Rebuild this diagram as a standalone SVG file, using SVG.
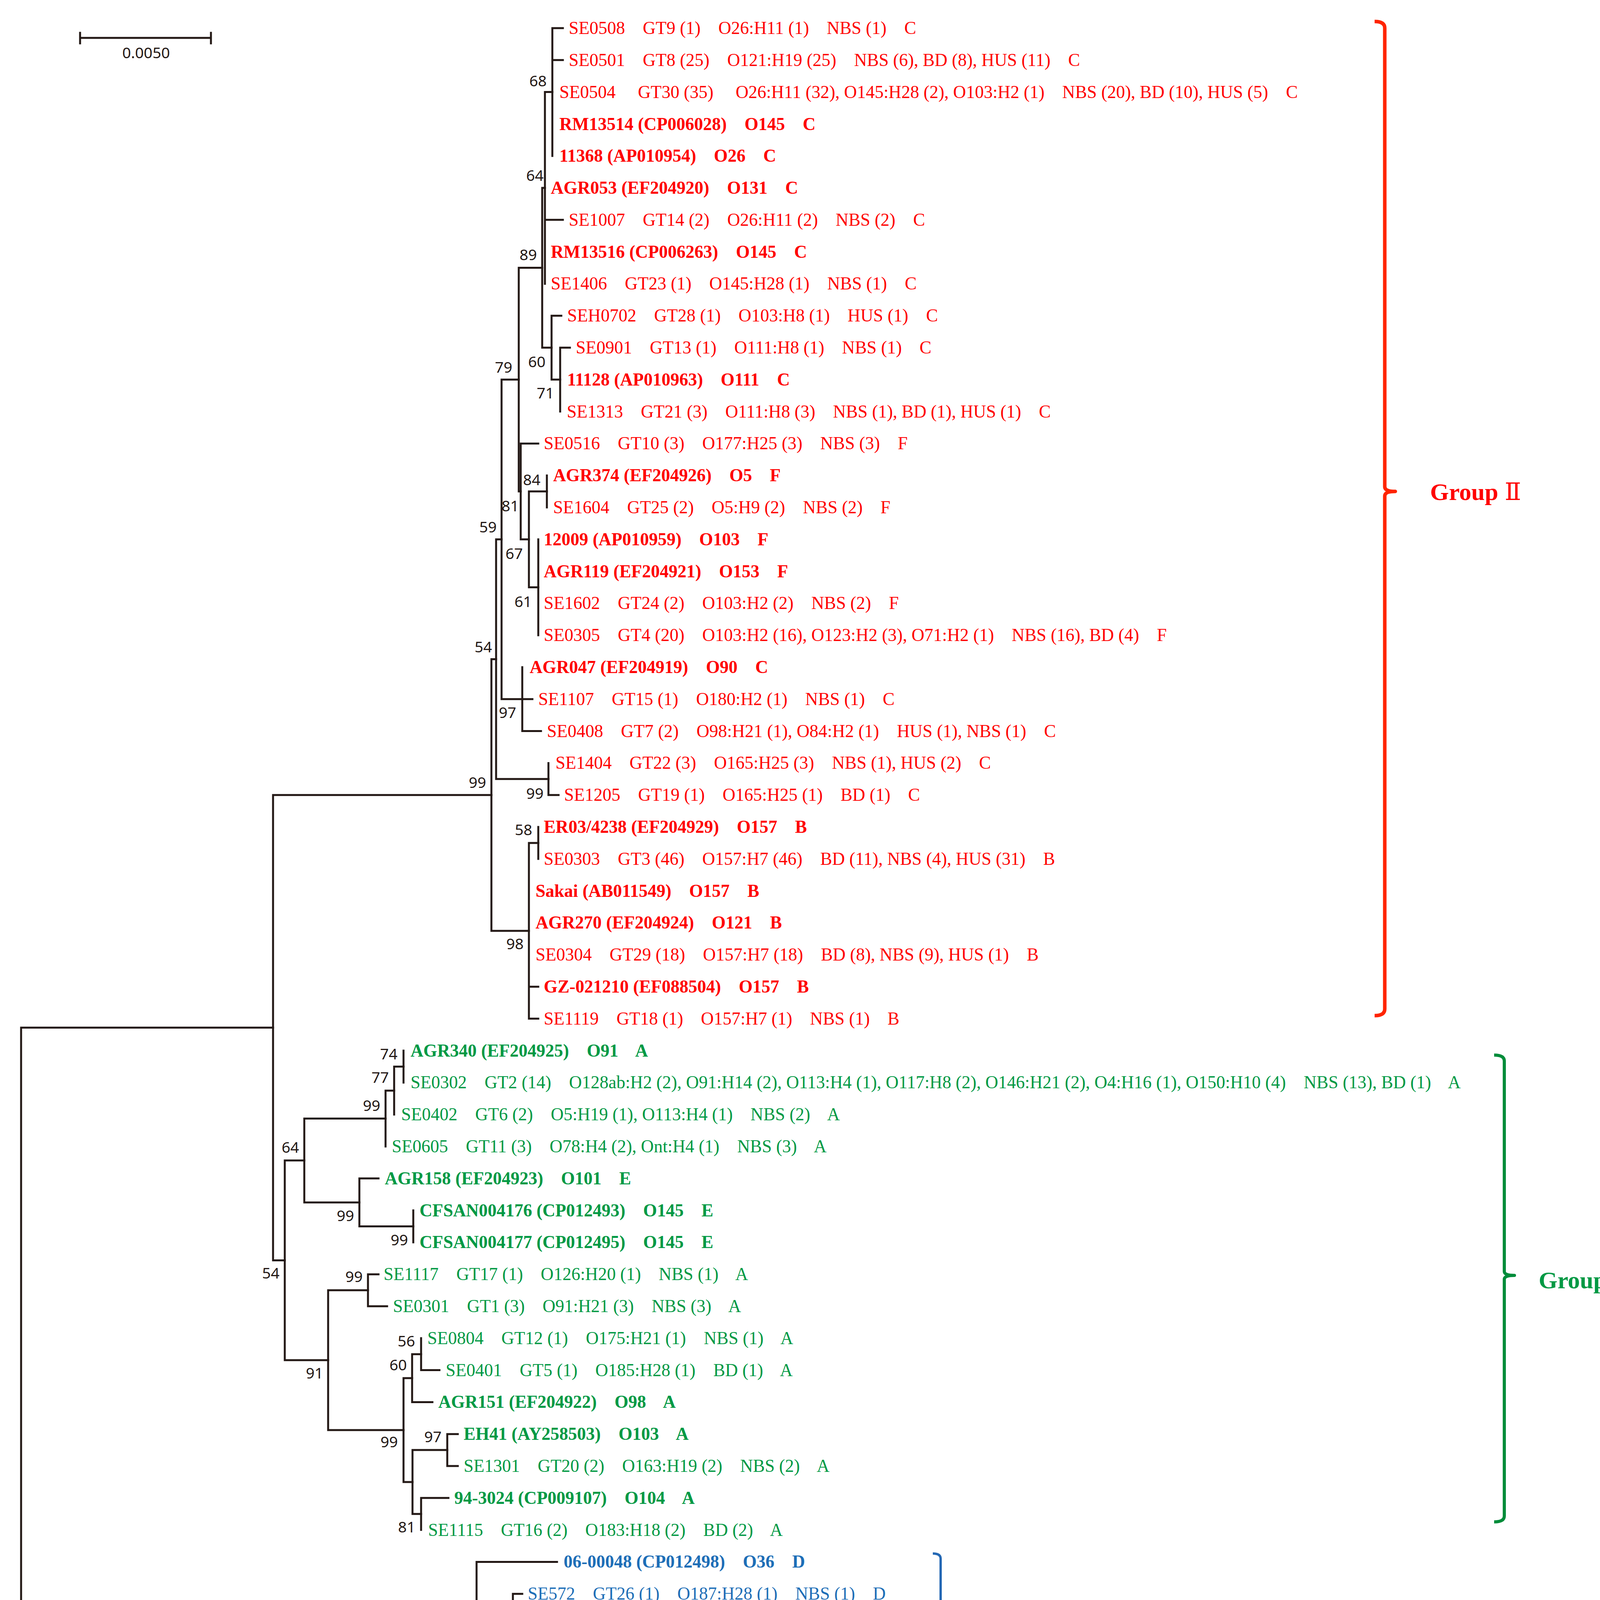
<svg xmlns="http://www.w3.org/2000/svg" width="4182" height="4631" viewBox="0 0 4182 4631">
<style>
.tree{fill:none;stroke:#231815;stroke-width:5;stroke-linecap:square}
.bs{font-family:"Noto Sans","DejaVu Sans",sans-serif;font-size:39px;fill:#231815}
.t{font-family:"Liberation Serif","Times New Roman",serif;font-size:45.5px;white-space:pre}
.r{fill:#FF0000}
.g{fill:#009944}
.b{fill:#1D6EB7}
.bold{font-weight:bold}
.grp{font-family:"Liberation Serif","Times New Roman",serif;font-size:62px;font-weight:bold}
.num{font-family:"Liberation Serif","DejaVu Serif","Noto Sans CJK SC",serif;font-weight:normal}
.br{fill:none;stroke-linecap:butt;stroke-linejoin:round}
</style>
<rect width="4182" height="4631" fill="#FFFFFF"/>

<g id="scale-bar">
<path class="tree" d="M205,97 H540 M205,84 V111 M540,84 V111" stroke-linecap="butt"/>
<text class="bs" x="374" y="149" text-anchor="middle">0.0050</text>
</g>

<g id="connectors" class="tree">
<path d="M54,2630.8 V4100.7 M54,2630.8 H699 M54,4100.7 H1220"/>
<path d="M699,2035.2 V3226.4 M699,2035.2 H1258 M699,3226.4 H729"/>
<path d="M1258,1687.5 V2382.9 M1258,1687.5 H1270 M1258,2382.9 H1354"/>
<path d="M1270,1380.8 V1994.3 M1270,1380.8 H1284 M1270,1994.3 H1404"/>
<path d="M1284,971.8 V1789.8 M1284,971.8 H1328 M1284,1789.8 H1337"/>
<path d="M1328,685.5 V1258.1 M1328,685.5 H1388 M1328,1258.1 H1333"/>
<path d="M1388,481 V890 M1388,481 H1395 M1388,890 H1412"/>
<path d="M1395,235.6 V726.4 M1395,235.6 H1414 M1395,562.8 H1441"/>
<path d="M1414,72 V399.2 M1414,72 H1441 M1414,153.8 H1441"/>
<path d="M1412,808.2 V971.8 M1412,808.2 H1437 M1412,971.8 H1434"/>
<path d="M1434,890 V1053.6 M1434,890 H1459"/>
<path d="M1333,1135.4 V1380.8 M1333,1135.4 H1378 M1333,1380.8 H1354"/>
<path d="M1354,1258.1 V1503.5 M1354,1258.1 H1400 M1354,1503.5 H1378"/>
<path d="M1400,1217.2 V1299"/>
<path d="M1378,1380.8 V1626.2"/>
<path d="M1337,1708 V1871.6 M1337,1789.8 H1363 M1337,1871.6 H1385"/>
<path d="M1404,1953.4 V2035.2 M1404,2035.2 H1430"/>
<path d="M1354,2157.9 V2607.8 M1354,2157.9 H1378 M1354,2526 H1378 M1354,2607.8 H1378"/>
<path d="M1378,2117 V2198.8"/>
<path d="M729,2970.8 V3482 M729,2970.8 H779 M729,3482 H840"/>
<path d="M779,2863.4 V3078.2 M779,2863.4 H987 M779,3078.2 H920"/>
<path d="M987,2791.9 V2935 M987,2791.9 H1009"/>
<path d="M1009,2730.5 V2853.2 M1009,2730.5 H1033"/>
<path d="M1033,2689.6 V2771.4"/>
<path d="M920,3016.8 V3139.5 M920,3016.8 H969 M920,3139.5 H1058"/>
<path d="M1058,3098.6 V3180.4"/>
<path d="M840,3303.1 V3661 M840,3303.1 H942 M840,3661 H1033"/>
<path d="M942,3262.2 V3344 M942,3262.2 H969 M942,3344 H991"/>
<path d="M1033,3528.1 V3793.9 M1033,3528.1 H1055 M1033,3793.9 H1056"/>
<path d="M1055,3466.7 V3589.4 M1055,3466.7 H1078 M1055,3589.4 H1107"/>
<path d="M1078,3425.8 V3507.6 M1078,3507.6 H1125"/>
<path d="M1056,3712.1 V3875.7 M1056,3712.1 H1145 M1056,3875.7 H1078"/>
<path d="M1145,3671.2 V3753 M1145,3671.2 H1172 M1145,3753 H1172"/>
<path d="M1078,3834.8 V3916.6 M1078,3834.8 H1148"/>
<path d="M1220,3998.4 V4202.9 M1220,3998.4 H1426 M1220,4202.9 H1313"/>
<path d="M1313,4080.2 V4325.6 M1313,4080.2 H1337 M1313,4325.6 H1361"/>
<path d="M1361,4202.9 V4448.3 M1361,4202.9 H1386 M1361,4448.3 H1364"/>
<path d="M1386,4162 V4243.8"/>
<path d="M1364,4366.5 V4530.1 M1364,4366.5 H1410 M1364,4530.1 H1456"/>
<path d="M1410,4325.6 V4407.4"/>
<path d="M1456,4489.2 V4571"/>
</g>

<g id="bootstrap" class="bs">
<text x="1355" y="221">68</text>
<text x="1347" y="463">64</text>
<text x="1330" y="666">89</text>
<text x="1267" y="954">79</text>
<text x="1352" y="940">60</text>
<text x="1374" y="1020">71</text>
<text x="1339" y="1242">84</text>
<text x="1284" y="1309">81</text>
<text x="1227" y="1363">59</text>
<text x="1294" y="1431">67</text>
<text x="1317" y="1554">61</text>
<text x="1215" y="1670">54</text>
<text x="1277" y="1838">97</text>
<text x="1200" y="2017">99</text>
<text x="1347" y="2045">99</text>
<text x="1318" y="2138">58</text>
<text x="1296" y="2430">98</text>
<text x="973" y="2712">74</text>
<text x="951" y="2772">77</text>
<text x="929" y="2844">99</text>
<text x="721" y="2951">64</text>
<text x="862" y="3126">99</text>
<text x="1000" y="3188">99</text>
<text x="671" y="3273">54</text>
<text x="884" y="3282">99</text>
<text x="1018" y="3447">56</text>
<text x="997" y="3508">60</text>
<text x="783" y="3529">91</text>
<text x="1086" y="3692">97</text>
<text x="974" y="3705">99</text>
<text x="1019" y="3923">81</text>
<text x="1163" y="4149">99</text>
<text x="1256" y="4251">99</text>
<text x="1325" y="4184">57</text>
<text x="1349" y="4350">83</text>
<text x="1303" y="4376">91</text>
<text x="1399" y="4581">98</text>
</g>

<g id="group-II-taxa">
<g id="tip-SE0508"><text class="t r" xml:space="preserve" x="1456" y="87">SE0508    GT9 (1)    O26:H11 (1)    NBS (1)    C</text></g>
<g id="tip-SE0501"><text class="t r" xml:space="preserve" x="1456" y="169">SE0501    GT8 (25)    O121:H19 (25)    NBS (6), BD (8), HUS (11)    C</text></g>
<g id="tip-SE0504"><text class="t r" xml:space="preserve" x="1432" y="251">SE0504     GT30 (35)     O26:H11 (32), O145:H28 (2), O103:H2 (1)    NBS (20), BD (10), HUS (5)    C</text></g>
<g id="tip-RM13514"><text class="t r bold" xml:space="preserve" x="1432" y="333">RM13514 (CP006028)    O145    C</text></g>
<g id="tip-11368"><text class="t r bold" xml:space="preserve" x="1432" y="414">11368 (AP010954)    O26    C</text></g>
<g id="tip-AGR053"><text class="t r bold" xml:space="preserve" x="1410" y="496">AGR053 (EF204920)    O131    C</text></g>
<g id="tip-SE1007"><text class="t r" xml:space="preserve" x="1456" y="578">SE1007    GT14 (2)    O26:H11 (2)    NBS (2)    C</text></g>
<g id="tip-RM13516"><text class="t r bold" xml:space="preserve" x="1410" y="660">RM13516 (CP006263)    O145    C</text></g>
<g id="tip-SE1406"><text class="t r" xml:space="preserve" x="1410" y="741">SE1406    GT23 (1)    O145:H28 (1)    NBS (1)    C</text></g>
<g id="tip-SEH0702"><text class="t r" xml:space="preserve" x="1452" y="823">SEH0702    GT28 (1)    O103:H8 (1)    HUS (1)    C</text></g>
<g id="tip-SE0901"><text class="t r" xml:space="preserve" x="1474" y="905">SE0901    GT13 (1)    O111:H8 (1)    NBS (1)    C</text></g>
<g id="tip-11128"><text class="t r bold" xml:space="preserve" x="1452" y="987">11128 (AP010963)    O111    C</text></g>
<g id="tip-SE1313"><text class="t r" xml:space="preserve" x="1451" y="1069">SE1313    GT21 (3)    O111:H8 (3)    NBS (1), BD (1), HUS (1)    C</text></g>
<g id="tip-SE0516"><text class="t r" xml:space="preserve" x="1392" y="1150">SE0516    GT10 (3)    O177:H25 (3)    NBS (3)    F</text></g>
<g id="tip-AGR374"><text class="t r bold" xml:space="preserve" x="1416" y="1232">AGR374 (EF204926)    O5    F</text></g>
<g id="tip-SE1604"><text class="t r" xml:space="preserve" x="1416" y="1314">SE1604    GT25 (2)    O5:H9 (2)    NBS (2)    F</text></g>
<g id="tip-12009"><text class="t r bold" xml:space="preserve" x="1392" y="1396">12009 (AP010959)    O103    F</text></g>
<g id="tip-AGR119"><text class="t r bold" xml:space="preserve" x="1392" y="1478">AGR119 (EF204921)    O153    F</text></g>
<g id="tip-SE1602"><text class="t r" xml:space="preserve" x="1392" y="1559">SE1602    GT24 (2)    O103:H2 (2)    NBS (2)    F</text></g>
<g id="tip-SE0305"><text class="t r" xml:space="preserve" x="1392" y="1641">SE0305    GT4 (20)    O103:H2 (16), O123:H2 (3), O71:H2 (1)    NBS (16), BD (4)    F</text></g>
<g id="tip-AGR047"><text class="t r bold" xml:space="preserve" x="1356" y="1723">AGR047 (EF204919)    O90    C</text></g>
<g id="tip-SE1107"><text class="t r" xml:space="preserve" x="1378" y="1805">SE1107    GT15 (1)    O180:H2 (1)    NBS (1)    C</text></g>
<g id="tip-SE0408"><text class="t r" xml:space="preserve" x="1400" y="1887">SE0408    GT7 (2)    O98:H21 (1), O84:H2 (1)    HUS (1), NBS (1)    C</text></g>
<g id="tip-SE1404"><text class="t r" xml:space="preserve" x="1422" y="1968">SE1404    GT22 (3)    O165:H25 (3)    NBS (1), HUS (2)    C</text></g>
<g id="tip-SE1205"><text class="t r" xml:space="preserve" x="1444" y="2050">SE1205    GT19 (1)    O165:H25 (1)    BD (1)    C</text></g>
<g id="tip-ER03-4238"><text class="t r bold" xml:space="preserve" x="1392" y="2132">ER03/4238 (EF204929)    O157    B</text></g>
<g id="tip-SE0303"><text class="t r" xml:space="preserve" x="1392" y="2214">SE0303    GT3 (46)    O157:H7 (46)    BD (11), NBS (4), HUS (31)    B</text></g>
<g id="tip-Sakai"><text class="t r bold" xml:space="preserve" x="1371" y="2296">Sakai (AB011549)    O157    B</text></g>
<g id="tip-AGR270"><text class="t r bold" xml:space="preserve" x="1371" y="2377">AGR270 (EF204924)    O121    B</text></g>
<g id="tip-SE0304"><text class="t r" xml:space="preserve" x="1371" y="2459">SE0304    GT29 (18)    O157:H7 (18)    BD (8), NBS (9), HUS (1)    B</text></g>
<g id="tip-GZ-021210"><text class="t r bold" xml:space="preserve" x="1392" y="2541">GZ-021210 (EF088504)    O157    B</text></g>
<g id="tip-SE1119"><text class="t r" xml:space="preserve" x="1392" y="2623">SE1119    GT18 (1)    O157:H7 (1)    NBS (1)    B</text></g>
</g>

<g id="group-I-taxa">
<g id="tip-AGR340"><text class="t g bold" xml:space="preserve" x="1051" y="2705">AGR340 (EF204925)    O91    A</text></g>
<g id="tip-SE0302"><text class="t g" xml:space="preserve" x="1051" y="2786">SE0302    GT2 (14)    O128ab:H2 (2), O91:H14 (2), O113:H4 (1), O117:H8 (2), O146:H21 (2), O4:H16 (1), O150:H10 (4)    NBS (13), BD (1)    A</text></g>
<g id="tip-SE0402"><text class="t g" xml:space="preserve" x="1027" y="2868">SE0402    GT6 (2)    O5:H19 (1), O113:H4 (1)    NBS (2)    A</text></g>
<g id="tip-SE0605"><text class="t g" xml:space="preserve" x="1003" y="2950">SE0605    GT11 (3)    O78:H4 (2), Ont:H4 (1)    NBS (3)    A</text></g>
<g id="tip-AGR158"><text class="t g bold" xml:space="preserve" x="985" y="3032">AGR158 (EF204923)    O101    E</text></g>
<g id="tip-CFSAN004176"><text class="t g bold" xml:space="preserve" x="1074" y="3114">CFSAN004176 (CP012493)    O145    E</text></g>
<g id="tip-CFSAN004177"><text class="t g bold" xml:space="preserve" x="1074" y="3195">CFSAN004177 (CP012495)    O145    E</text></g>
<g id="tip-SE1117"><text class="t g" xml:space="preserve" x="982" y="3277">SE1117    GT17 (1)    O126:H20 (1)    NBS (1)    A</text></g>
<g id="tip-SE0301"><text class="t g" xml:space="preserve" x="1006" y="3359">SE0301    GT1 (3)    O91:H21 (3)    NBS (3)    A</text></g>
<g id="tip-SE0804"><text class="t g" xml:space="preserve" x="1094" y="3441">SE0804    GT12 (1)    O175:H21 (1)    NBS (1)    A</text></g>
<g id="tip-SE0401"><text class="t g" xml:space="preserve" x="1141" y="3523">SE0401    GT5 (1)    O185:H28 (1)    BD (1)    A</text></g>
<g id="tip-AGR151"><text class="t g bold" xml:space="preserve" x="1122" y="3604">AGR151 (EF204922)    O98    A</text></g>
<g id="tip-EH41"><text class="t g bold" xml:space="preserve" x="1187" y="3686">EH41 (AY258503)    O103    A</text></g>
<g id="tip-SE1301"><text class="t g" xml:space="preserve" x="1187" y="3768">SE1301    GT20 (2)    O163:H19 (2)    NBS (2)    A</text></g>
<g id="tip-94-3024"><text class="t g bold" xml:space="preserve" x="1163" y="3850">94-3024 (CP009107)    O104    A</text></g>
<g id="tip-SE1115"><text class="t g" xml:space="preserve" x="1096" y="3932">SE1115    GT16 (2)    O183:H18 (2)    BD (2)    A</text></g>
</g>

<g id="group-III-taxa">
<g id="tip-06-00048"><text class="t b bold" xml:space="preserve" x="1443" y="4013">06-00048 (CP012498)    O36    D</text></g>
<g id="tip-SE572"><text class="t b" xml:space="preserve" x="1351" y="4095">SE572    GT26 (1)    O187:H28 (1)    NBS (1)    D</text></g>
<g id="tip-08-00022"><text class="t b bold" xml:space="preserve" x="1402" y="4177">08-00022 (CP012501)    O136    D</text></g>
<g id="tip-SE574"><text class="t b" xml:space="preserve" x="1402" y="4259">SE574    GT27 (1)    O136:H12 (1)    NBS (1)    D</text></g>
<g id="tip-09-00049"><text class="t b bold" xml:space="preserve" x="1425" y="4341">09-00049 (CP012500)    O168    D</text></g>
<g id="tip-GB089"><text class="t b bold" xml:space="preserve" x="1425" y="4422">GB089 (CP012499)    O168    D</text></g>
<g id="tip-AGR670"><text class="t b bold" xml:space="preserve" x="1475" y="4504">AGR670 (EF204927)    ONT    D</text></g>
<g id="tip-AGR674"><text class="t b bold" xml:space="preserve" x="1475" y="4586">AGR674 (EF204928)    ONT    D</text></g>
</g>

<g id="group-II">
<path class="br" stroke="#FF2400" stroke-width="9" d="M3519,55 Q3545,55 3545,72 V1246 Q3545,1258 3572,1258 Q3545,1258 3545,1270 V2583 Q3545,2600 3519,2600"/>
<text class="grp r" x="3661" y="1280">Group<tspan class="num" x="3852">Ⅱ</tspan></text>
</g>

<g id="group-I">
<path class="br" stroke="#008C3A" stroke-width="8" d="M3825,2701 Q3851,2701 3851,2716 V3255 Q3851,3265 3877,3265 Q3851,3265 3851,3275 V3881 Q3851,3896 3825,3896"/>
<text class="grp g" x="3939" y="3298">Group<tspan class="num" x="4133">Ⅰ</tspan></text>
</g>

<g id="group-III">
<path class="br" stroke="#2468B4" stroke-width="6" d="M2388,3977 Q2408,3977 2408,3990 V4254 Q2408,4263 2434,4263 Q2408,4263 2408,4272 V4570 Q2408,4583 2388,4583"/>
<text class="grp b" x="2508" y="4277">Group<tspan class="num" x="2710">Ⅲ</tspan></text>
</g>
</svg>
